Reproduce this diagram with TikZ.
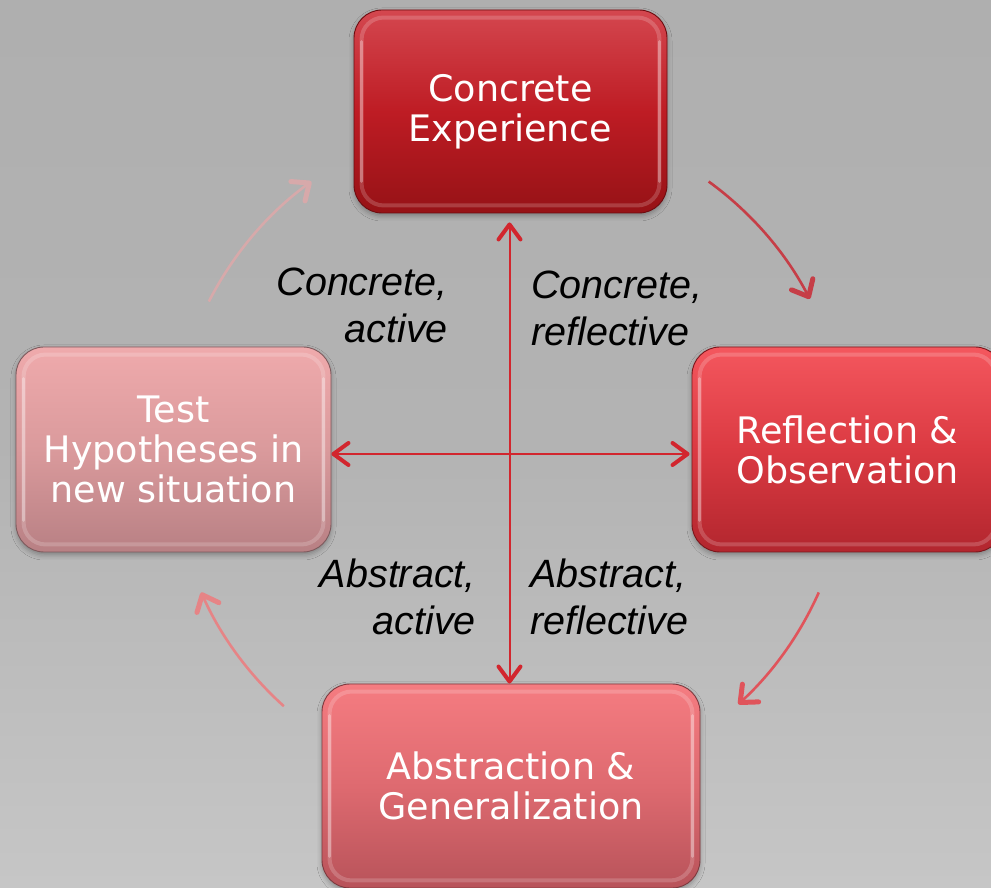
\documentclass[tikz,border=0pt]{standalone}
\usepackage{fontspec}
\setmainfont{DejaVu Sans}
\newfontfamily\labfont{Liberation Sans}
\usetikzlibrary{arrows.meta,shadows.blur}
\definecolor{bgtop}{HTML}{AFAFAF}
\definecolor{bgmid}{HTML}{B3B3B3}
\definecolor{bgbot}{HTML}{C6C6C6}
\definecolor{crossred}{HTML}{D2262E}
\definecolor{ceTop}{HTML}{D4474F}
\definecolor{ceMid}{HTML}{BE1C24}
\definecolor{ceBot}{HTML}{961216}
\definecolor{ceLine}{HTML}{6E0C10}
\definecolor{roTop}{HTML}{F4575E}
\definecolor{roMid}{HTML}{DB3A42}
\definecolor{roBot}{HTML}{B2262E}
\definecolor{roLine}{HTML}{7A161B}
\definecolor{agTop}{HTML}{F57C81}
\definecolor{agMid}{HTML}{DE6A70}
\definecolor{agBot}{HTML}{B8535A}
\definecolor{agLine}{HTML}{7E3A3F}
\definecolor{thTop}{HTML}{EFAAAC}
\definecolor{thMid}{HTML}{DA9A9C}
\definecolor{thBot}{HTML}{B88084}
\definecolor{thLine}{HTML}{7E5A5D}
\definecolor{arTR}{HTML}{C63E47}
\definecolor{arBR}{HTML}{E0545B}
\definecolor{arBL}{HTML}{E68486}
\definecolor{arTL}{HTML}{D7A9AA}
\begin{document}
\begin{tikzpicture}[x=1pt,y=1pt,
  box/.style={draw, line width=0.9pt, rounded corners=28pt, inner sep=0pt,
    text=white, font=\fontsize{36.5}{40}\selectfont, align=center,
    blur shadow={shadow xshift=0pt, shadow yshift=-3pt, shadow blur radius=5pt, shadow opacity=30}},
  bevel/.style={draw=white, draw opacity=0.18, line width=4pt, rounded corners=22pt},
  sidelight/.style={draw=white, draw opacity=0.30, line width=3pt, line cap=round},
  lab/.style={inner sep=0pt, font=\labfont\itshape\fontsize{39.5}{47}\selectfont, text=black},
  cross/.style={draw=crossred, line width=2pt,
    {Straight Barb[length=15pt,width=22pt,line width=4pt,round]}-{Straight Barb[length=15pt,width=22pt,line width=4pt,round]}},
  cyc/.style={line width=2.6pt, -{Straight Barb[length=14pt,width=24pt,line width=5pt,round]}}
]
\useasboundingbox (0,0) rectangle (991,887);
\clip (0,0) rectangle (991,887);
\shade[top color=bgtop, bottom color=bgbot, middle color=bgmid] (0,0) rectangle (991,887);

% boxes
\node[box, draw=ceLine, top color=ceTop, bottom color=ceBot, middle color=ceMid,
  minimum width=313pt, minimum height=203pt] (ce) at (510.5,775.5) {Concrete\\Experience};
\node[box, draw=roLine, top color=roTop, bottom color=roBot, middle color=roMid,
  minimum width=311pt, minimum height=205pt] (ro) at (847.5,437.5) {Reflection \&\\Observation};
\node[box, draw=thLine, top color=thTop, bottom color=thBot, middle color=thMid,
  minimum width=315pt, minimum height=205pt] (th) at (173.5,437.5) {Test\\Hypotheses in\\new situation};
\node[box, draw=agLine, top color=agTop, bottom color=agBot, middle color=agMid,
  minimum width=378pt, minimum height=204pt] (ag) at (511,101) {Abstraction \&\\Generalization};

% bevel highlights
\foreach \n in {ce,ro,th,ag}{
  \draw[bevel] ([shift={(8pt,8pt)}]\n.south west) rectangle ([shift={(-8pt,-8pt)}]\n.north east);
  \draw[sidelight] ([shift={(8pt,32pt)}]\n.south west) -- ([shift={(8pt,-32pt)}]\n.north west);
  \draw[sidelight] ([shift={(-8pt,32pt)}]\n.south east) -- ([shift={(-8pt,-32pt)}]\n.north east);
}

% cross arrows
\draw[cross] ([xshift=-1pt,yshift=-9pt]ce.south) -- ([xshift=-1.5pt]ag.north);
\draw[cross] ([yshift=-4.5pt]th.east) -- ([xshift=-2pt,yshift=-4.5pt]ro.west);

% cycle arrows
\coordinate (o) at (510,432);
\draw[cyc, draw=arTR] ([shift={(54:338)}]o) arc[start angle=54, end angle=27.5, radius=338];
\draw[cyc, draw=arBR] ([shift={(-24:338)}]o) arc[start angle=-24, end angle=-47.5, radius=338];
\draw[cyc, draw=arBL] ([shift={(-132:338)}]o) arc[start angle=-132, end angle=-156, radius=338];
\draw[cyc, draw=arTL] ([shift={(153:338)}]o) arc[start angle=153, end angle=126, radius=338];

% labels
\node[lab, align=right, anchor=north east] (l1) at (448,619) {Concrete,\\active};
\node[lab, align=left, anchor=north west] (l2) at (531,616) {Concrete,\\reflective};
\node[lab, align=right, anchor=north east] (l3) at (476,328) {Abstract,\\active};
\node[lab, align=left, anchor=north west] (l4) at (530,328) {Abstract,\\reflective};
\end{tikzpicture}
\end{document}
